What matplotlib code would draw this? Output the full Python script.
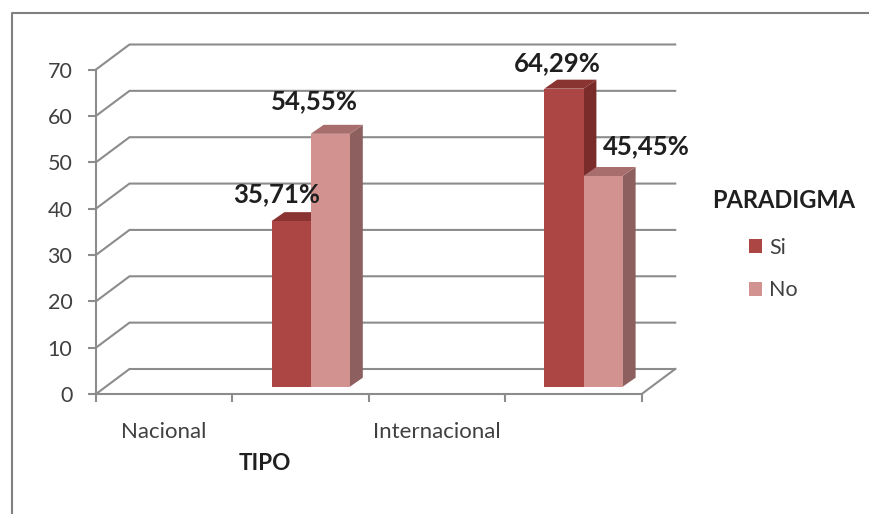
import matplotlib
matplotlib.use('Agg')
import matplotlib.pyplot as plt
import matplotlib.transforms as mtransforms
import numpy as np
from matplotlib.lines import Line2D

plt.rcParams['font.family'] = ['Lato', 'DejaVu Sans']

categories = ['Nacional', 'Internacional']
series_names = ['Si', 'No']
si_values = [35.71, 64.29]
no_values = [54.55, 45.45]
si_labels = ['35,71%', '64,29%']
no_labels = ['54,55%', '45,45%']
y_ticks = [0, 10, 20, 30, 40, 50, 60, 70]

W, H = 869, 514
fig = plt.figure(figsize=(W / 100, H / 100), dpi=100)
fig.patch.set_facecolor('white')

# axes box = front plane of the fake 3d chart (pixels from the picture)
left, right, top, bottom = 96, 641.7, 69.5, 394
ax = fig.add_axes([left / W, 1 - bottom / H, (right - left) / W, (bottom - top) / H])
px_x = 272.8  # pixels per category
px_y = (bottom - top) / 70
ax.set_xlim((left - 310.7) / px_x, (right - 310.7) / px_x)
ax.set_ylim(0, 70)
ax.patch.set_visible(False)
xmin, xmax = ax.get_xlim()

grey = '#8c8c8c'
for s in ['top', 'right']:
    ax.spines[s].set_visible(False)
for s in ['left', 'bottom']:
    ax.spines[s].set_color(grey)
    ax.spines[s].set_linewidth(1.5)
ax.set_yticks(y_ticks)
ax.set_xticks(np.linspace(xmin, xmax, 5))
ax.set_xticklabels([])
ax.tick_params(axis='both', color=grey, width=1.5, length=6, direction='out')
ax.tick_params(axis='y', labelsize=15.5, labelcolor='#404040', pad=11)

# back wall grid lines
wall_x = 33.5 / px_x
wall_y = 25 / px_y
for v in y_ticks:
    ax.plot([xmin, xmin + wall_x, xmax + wall_x], [v, v + wall_y, v + wall_y],
            color=grey, lw=1.5, clip_on=False, zorder=1, solid_joinstyle='miter')
ax.plot([xmax, xmax + wall_x], [0, wall_y], color=grey, lw=1.5, clip_on=False, zorder=1)

# bars sit a bit behind the front plane
bar_w = 39.2 / px_x
depth_x = 12.9 / px_x
depth_y = 9.0 / px_y
bar_shift = mtransforms.offset_copy(ax.transData, fig=fig, x=0, y=7.3, units='dots')
x = np.arange(len(categories))


def bar3d(xs, values, front, side, topc, label, z):
    for xi, v in zip(xs, values):
        ax.fill([xi + bar_w, xi + bar_w + depth_x, xi + bar_w + depth_x, xi + bar_w],
                [0, depth_y, v + depth_y, v], color=side, lw=0, transform=bar_shift,
                zorder=z, clip_on=False)
        ax.fill([xi, xi + depth_x, xi + bar_w + depth_x, xi + bar_w],
                [v, v + depth_y, v + depth_y, v], color=topc, lw=0, transform=bar_shift,
                zorder=z, clip_on=False)
    return ax.bar(xs, values, width=bar_w, align='edge', color=front, lw=0, label=label,
                  transform=bar_shift, zorder=z + 0.5, clip_on=False)


si_bars = bar3d(x - bar_w, si_values, '#ab4644', '#7a2c2b', '#8a3432', series_names[0], 3)
no_bars = bar3d(x, no_values, '#d29290', '#8d5f5e', '#a86e6d', series_names[1], 4)

# value labels, offsets in pixels from the bar top
si_off = [(-14, 34), (-7, 33)]
no_off = [(-16, 40), (43, 37)]
for xi, v, s, off in zip(x - bar_w / 2, si_values, si_labels, si_off):
    ax.annotate(s, (xi, v), xytext=off, textcoords='offset pixels', ha='center', va='center',
                fontsize=18.5, fontweight='bold', color='#1f1f1f', zorder=6, annotation_clip=False)
for xi, v, s, off in zip(x + bar_w / 2, no_values, no_labels, no_off):
    ax.annotate(s, (xi, v), xytext=off, textcoords='offset pixels', ha='center', va='center',
                fontsize=18.5, fontweight='bold', color='#1f1f1f', zorder=6, annotation_clip=False)

for xi, c in zip(x, categories):
    ax.text(xi - 0.538, -8.1, c, ha='center', va='center', fontsize=16, color='#404040', clip_on=False)
ax.text(-0.168, -15, 'TIPO', ha='center', va='center', fontsize=16.2, fontweight='bold',
        color='#1f1f1f', clip_on=False)

# legend
fig.text(783.5 / W, 1 - 201 / H, 'PARADIGMA', ha='center', va='center', fontsize=17,
         fontweight='bold', color='#1f1f1f')
ax.legend(handles=[si_bars, no_bars], loc='center left', frameon=False,
          bbox_to_anchor=(749 / W, 1 - 269 / H), bbox_transform=fig.transFigure,
          fontsize=15.5, labelcolor='#404040', handlelength=0.62, handleheight=0.62,
          handletextpad=0.33, labelspacing=1.05, borderpad=0, borderaxespad=0)

# outer frame, only top and left are visible in the picture
fig.add_artist(Line2D([11.5 / W, 11.5 / W, 1], [0, 1 - 12.5 / H, 1 - 12.5 / H],
                      color='#808080', lw=1.5))

fig.savefig('out.png', dpi=100, facecolor='white')
